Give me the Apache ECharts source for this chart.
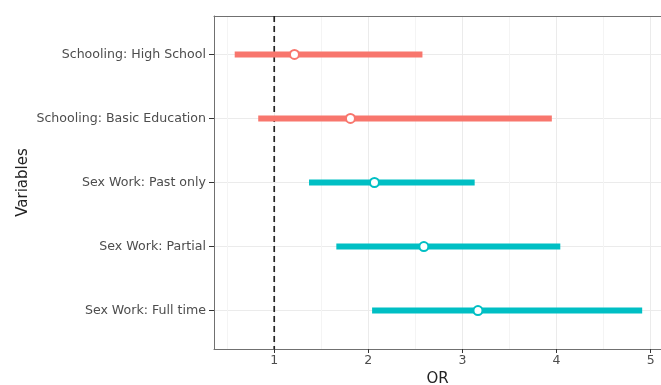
<!DOCTYPE html>
<html>
<head>
<meta charset="utf-8">
<script src="https://cdn.jsdelivr.net/npm/echarts@6/dist/echarts.min.js"></script>
<style>html,body{margin:0;padding:0;background:#fff}#c{width:661px;height:385px}</style>
</head>
<body>
<div id="c"></div>
<script>
const categories = ['Schooling: High School','Schooling: Basic Education','Sex Work: Past only','Sex Work: Partial','Sex Work: Full time'];
const groups = ['Schooling','Schooling','Sex Work','Sex Work','Sex Work'];
const orValues = [1.215, 1.81, 2.065, 2.59, 3.165];
const lowerCI = [0.58, 0.83, 1.37, 1.66, 2.04];
const upperCI = [2.575, 3.95, 3.13, 4.04, 4.91];
const xTicks = [1, 2, 3, 4, 5];
const xMinorTicks = [0.5, 1.5, 2.5, 3.5, 4.5];
const yTicks = [1, 2, 3, 4, 5];
const refLine = 1;

const groupColors = { 'Schooling': '#F8766D', 'Sex Work': '#00BFC4' };
const textColor = '#4d4d4d';
const font = 'DejaVu Sans';
const borderColor = '#707070';

const data = categories.map((c, i) => ({
  value: [lowerCI[i], upperCI[i], orValues[i], i + 1],
  itemStyle: { color: groupColors[groups[i]] }
}));

const chart = echarts.init(document.getElementById('c'), null, { renderer: 'canvas' });
chart.setOption({
  animation: false,
  grid: { left: 214, top: 16, right: 0, bottom: 36, outerBoundsMode: 'none', containLabel: false, show: false },
  xAxis: [{
    type: 'value', min: 0.36, max: 5.11, position: 'bottom',
    name: 'OR', nameLocation: 'middle', nameGap: 23, nameMoveOverlap: false,
    nameTextStyle: { fontFamily: font, fontSize: 15, color: '#222' },
    axisLine: { show: true, onZero: false, lineStyle: { color: borderColor, width: 1 } },
    axisTick: { show: true, length: 4, customValues: xTicks, lineStyle: { color: '#333' } },
    axisLabel: { customValues: xTicks, margin: 5, fontFamily: font, fontSize: 12.5, color: textColor },
    splitLine: { show: true, lineStyle: { color: '#ebebeb', width: 1 } }
  }, {
    type: 'value', min: 0.36, max: 5.11, position: 'top',
    axisLine: { show: true, onZero: false, lineStyle: { color: borderColor, width: 1 } },
    axisTick: { show: false, customValues: xMinorTicks },
    axisLabel: { show: false, customValues: xMinorTicks },
    splitLine: { show: true, lineStyle: { color: '#f4f4f4', width: 1 } }
  }],
  yAxis: {
    type: 'value', min: 0.4, max: 5.6, inverse: true,
    name: 'Variables', nameLocation: 'middle', nameGap: 183, nameRotate: 90, nameMoveOverlap: false,
    nameTextStyle: { fontFamily: font, fontSize: 15, color: '#222' },
    axisLine: { show: true, onZero: false, lineStyle: { color: borderColor, width: 1 } },
    axisTick: { show: true, length: 5, customValues: yTicks, lineStyle: { color: '#333' } },
    axisLabel: { customValues: yTicks, margin: 8, fontFamily: font, fontSize: 12.6, color: textColor,
      formatter: v => categories[Math.round(v) - 1] || '' },
    splitLine: { show: true, lineStyle: { color: '#ebebeb', width: 1 } }
  },
  series: [{
    type: 'line',
    xAxisIndex: 0,
    data: [[refLine, 0.4], [refLine, 5.6]],
    symbol: 'none',
    lineStyle: { color: '#222', width: 1.7, type: [6, 4] },
    z: 3,
    silent: true
  }, {
    type: 'custom',
    xAxisIndex: 0,
    data: data,
    encode: { x: [0, 1, 2], y: 3 },
    z: 4,
    renderItem: function (params, api) {
      const y = api.value(3);
      const p0 = api.coord([api.value(0), y]);
      const p1 = api.coord([api.value(1), y]);
      const pm = api.coord([api.value(2), y]);
      const color = api.visual('color');
      return {
        type: 'group',
        children: [{
          type: 'line',
          shape: { x1: p0[0], y1: p0[1], x2: p1[0], y2: p1[1] },
          style: { stroke: color, lineWidth: 6 }
        }, {
          type: 'circle',
          shape: { cx: pm[0], cy: pm[1], r: 4.5 },
          style: { fill: '#fff', stroke: color, lineWidth: 2 }
        }]
      };
    }
  }]
});
</script>
</body>
</html>
